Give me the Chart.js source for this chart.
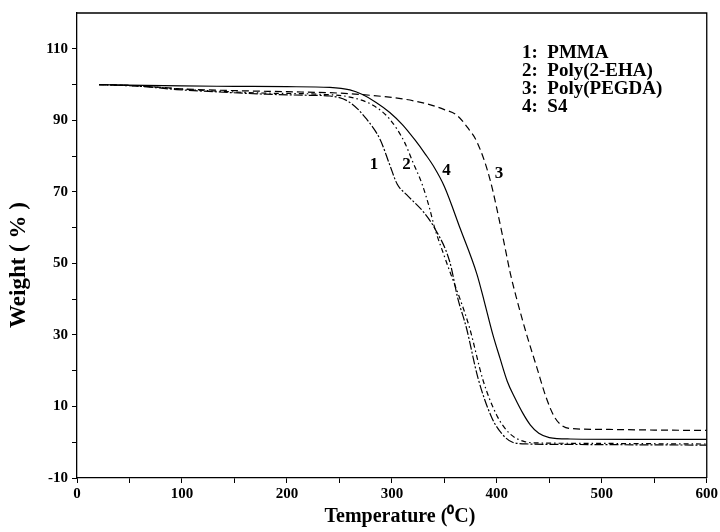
<!DOCTYPE html>
<html>
<head>
<meta charset="utf-8">
<script src="https://cdn.jsdelivr.net/npm/chart.js@4.4.1/dist/chart.umd.min.js"></script>
<style>
  html, body { margin: 0; padding: 0; background: #fff; }
  #wrap { width: 720px; height: 532px; }
</style>
</head>
<body>
<div id="wrap"><canvas id="tga" width="720" height="532"></canvas></div>
<script>
// TGA curves, weight (%) vs temperature (°C)
const seriesNames = ["PMMA", "Poly(2-EHA)", "Poly(PEGDA)", "S4"];

const pmmaT = [21, 60, 95, 130, 180, 220, 241, 260, 276, 289, 298, 305, 314, 330, 341, 355, 363, 371, 382, 395, 405, 415, 430, 460, 520, 600];
const pmmaW = [100, 99.5, 98.6, 98, 97.3, 97, 96.8, 95, 90.3, 84.5, 77.5, 72.2, 69.2, 64.4, 59.7, 50.6, 40, 32, 18, 7, 2.3, 0, -0.5, -0.6, -0.7, -0.8];

const ehaT = [21, 60, 95, 130, 180, 230, 260, 282, 298, 312, 320, 329, 336, 341, 350, 358, 365, 374, 387, 400, 412, 425, 440, 480, 540, 600];
const ehaW = [100, 99.6, 98.8, 98.2, 97.6, 97.3, 96.5, 94.2, 90.3, 83.9, 78.3, 72, 65.3, 59.7, 52, 45.5, 40, 32, 17.2, 7.5, 2.5, 0.3, -0.2, -0.3, -0.4, -0.5];

const pegdaT = [21, 60, 100, 150, 200, 250, 279, 310, 336, 350, 362, 372, 381, 393, 406, 413, 419, 428, 438, 447, 455, 463, 472, 500, 550, 600];
const pegdaW = [100, 99.6, 98.8, 98.3, 98, 97.6, 97, 96, 94.4, 93, 91.4, 88, 84, 74, 57, 47, 40, 30.5, 21, 12.5, 7, 4.5, 3.8, 3.6, 3.4, 3.3];

const s4T = [21, 100, 150, 200, 241, 260, 272, 285, 298, 310, 322, 332, 340, 350, 365, 381, 388, 396, 403, 410, 417, 425, 432, 440, 450, 470, 530, 600];
const s4W = [100, 99.6, 99.5, 99.4, 99.2, 98.5, 97.2, 95, 92.2, 88.8, 84.5, 80.5, 77, 71.5, 59.8, 47, 39.4, 30.3, 23.5, 17, 12.5, 8, 4.8, 2.5, 1.3, 0.9, 0.8, 0.8];

// curve number tags placed beside the curves
const curveTagText = ["1", "2", "4", "3"];
const curveTagT = [283, 314, 352, 402];
const curveTagW = [77.5, 77.5, 76, 75];

const xTicks = [0, 100, 200, 300, 400, 500, 600];
const yTicks = [-10, 10, 30, 50, 70, 90, 110];

function pts(xs, ys) {
  return xs.map((x, i) => ({ x: x, y: ys[i] }));
}

const serif = "'Liberation Serif', 'Times New Roman', serif";

const framePlugin = {
  id: 'frame',
  afterDatasetsDraw(chart) {
    const ctx = chart.ctx;
    const a = chart.chartArea;
    const xs = chart.scales.x, ys = chart.scales.y;
    ctx.save();
    ctx.strokeStyle = '#000';
    ctx.lineWidth = 1.3;
    ctx.beginPath();
    ctx.moveTo(a.left, a.top);
    ctx.lineTo(a.right, a.top);
    ctx.lineTo(a.right, a.bottom);
    ctx.stroke();

    ctx.fillStyle = '#000';
    ctx.font = 'bold 17px ' + serif;
    ctx.textAlign = 'center';
    ctx.textBaseline = 'middle';
    curveTagT.forEach((t, i) => {
      ctx.fillText(curveTagText[i], xs.getPixelForValue(t), ys.getPixelForValue(curveTagW[i]));
    });

    // key, upper right
    ctx.font = 'bold 19px ' + serif;
    ctx.textAlign = 'left';
    seriesNames.forEach((n, i) => {
      ctx.fillText((i + 1) + ':  ' + n, 522, 53 + i * 18);
    });

    // axis titles
    ctx.textAlign = 'center';
    ctx.font = 'bold 20px ' + serif;
    ctx.fillText('Temperature (\u2070C)', 400, 517);
    ctx.translate(19, 265);
    ctx.rotate(-Math.PI / 2);
    ctx.font = 'bold 23px ' + serif;
    ctx.fillText('Weight ( % )', 0, 0);
    ctx.restore();
  }
};

new Chart(document.getElementById('tga'), {
  type: 'line',
  data: {
    datasets: [
      { label: seriesNames[0], data: pts(pmmaT, pmmaW), borderDash: [9, 2, 2, 2] },
      { label: seriesNames[1], data: pts(ehaT, ehaW), borderDash: [5, 3, 1.5, 3] },
      { label: seriesNames[2], data: pts(pegdaT, pegdaW), borderDash: [7, 4] },
      { label: seriesNames[3], data: pts(s4T, s4W), borderDash: [] }
    ].map(d => Object.assign({
      borderColor: '#000',
      borderWidth: 1.2,
      pointRadius: 0,
      fill: false,
      cubicInterpolationMode: 'monotone'
    }, d))
  },
  options: {
    responsive: false,
    animation: false,
    layout: { padding: { top: 11, right: 13, left: 0, bottom: 0 } },
    plugins: { legend: { display: false }, tooltip: { enabled: false } },
    scales: {
      x: {
        type: 'linear',
        min: 0,
        max: 600,
        afterFit(scale) { scale.height = 54; },
        afterBuildTicks(scale) {
          scale.ticks = [];
          for (let v = 0; v <= 600; v += 50) scale.ticks.push({ value: v });
        },
        ticks: {
          autoSkip: false,
          maxRotation: 0,
          padding: 2,
          color: '#000',
          font: { family: serif, size: 15, weight: 'bold' },
          callback: v => xTicks.includes(v) ? String(v) : ''
        },
        grid: { drawOnChartArea: false, tickLength: 5, color: '#000', lineWidth: 1 },
        border: { color: '#000', width: 1.3 }
      },
      y: {
        type: 'linear',
        min: -10,
        max: 120,
        afterFit(scale) { scale.width = 77; },
        afterBuildTicks(scale) {
          scale.ticks = [];
          for (let v = -10; v <= 110; v += 10) scale.ticks.push({ value: v });
        },
        ticks: {
          autoSkip: false,
          padding: 4,
          color: '#000',
          font: { family: serif, size: 15, weight: 'bold' },
          callback: v => yTicks.includes(v) ? String(v) : ''
        },
        grid: { drawOnChartArea: false, tickLength: 5, color: '#000', lineWidth: 1 },
        border: { color: '#000', width: 1.3 }
      }
    }
  },
  plugins: [framePlugin]
});
</script>
</body>
</html>
